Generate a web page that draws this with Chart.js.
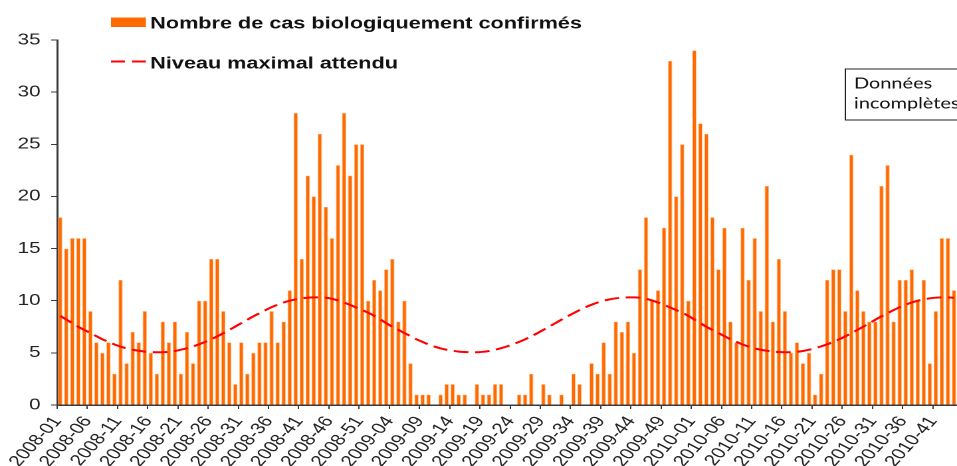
<!DOCTYPE html>
<html><head><meta charset="utf-8">
<script src="https://cdn.jsdelivr.net/npm/chart.js@4"></script>
<style>html,body{margin:0;padding:0;background:#fff;overflow:hidden;}canvas{display:block;}</style>
</head>
<body>
<canvas id="c" width="720" height="466" style="width:957px;height:466px;"></canvas>
<script>
// ---- data ----
const years = [2008, 2009, 2010];
const weeksShown = [52, 53, 44];

const cases2008 = [18,15,16,16,16,9,6,5,6,3, 12,4,7,6,9,5,3,8,6,8, 3,7,4,10,10,14,14,9,6,2, 6,3,5,6,6,9,6,8,11,28, 14,22,20,26,19,16,23,28,22,25, 25,10];
const cases2009 = [12,11,13,14,8,10,4,1,1,1, 0,1,2,2,1,1,0,2,1,1, 2,2,0,0,1,1,3,0,2,1, 0,1,0,3,2,0,4,3,6,3, 8,7,8,5,13,18,10,11,17,33, 20,25,10];
const cases2010 = [34,27,26,18,13,17,8,6,17,12, 16,9,21,8,14,9,5,6,4,5, 1,3,12,13,13,9,24,11,9,8, 8,21,23,8,12,12,13,10,12,4, 9,16,16,11];

const expected2008 = [8.55,8.2,7.85,7.5,7.2,6.9,6.6,6.3,6.05,5.8, 5.6,5.42,5.3,5.2,5.12,5.08,5.06,5.06,5.1,5.18, 5.3,5.45,5.62,5.82,6.05,6.3,6.58,6.88,7.2,7.52, 7.85,8.18,8.5,8.8,9.1,9.38,9.62,9.83,10.0,10.13, 10.23,10.29,10.32,10.32,10.28,10.18,10.03,9.83,9.6,9.35, 9.1,8.85];
const expected2009 = [8.55,8.2,7.85,7.5,7.2,6.9,6.6,6.3,6.05,5.8, 5.6,5.42,5.3,5.2,5.12,5.08,5.06,5.06,5.1,5.18, 5.3,5.45,5.62,5.82,6.05,6.3,6.58,6.88,7.2,7.52, 7.85,8.18,8.5,8.8,9.1,9.38,9.62,9.83,10.0,10.13, 10.23,10.29,10.32,10.32,10.28,10.18,10.03,9.83,9.6,9.35, 9.1,8.85,8.55];
const expected2010 = [8.2,7.85,7.5,7.2,6.9,6.6,6.3,6.05,5.8,5.6, 5.42,5.3,5.2,5.12,5.08,5.06,5.06,5.1,5.18,5.3, 5.45,5.62,5.82,6.05,6.3,6.58,6.88,7.2,7.52,7.85, 8.18,8.5,8.8,9.1,9.38,9.62,9.83,10.0,10.13,10.23, 10.29,10.32,10.32,10.28];

const legendLabels = ['Nombre de cas biologiquement confirmés', 'Niveau maximal attendu'];
const noteLines = ['Données', 'incomplètes'];
const yMin = 0, yMax = 35, yStep = 5;
const labelEvery = 5;

// ---- derived tables ----
const categories = [];
years.forEach((y, k) => {
  for (let w = 1; w <= weeksShown[k]; w++) categories.push(y + '-' + String(w).padStart(2, '0'));
});
const cases = [...cases2008, ...cases2009, ...cases2010];
const expected = [...expected2008, ...expected2009, ...expected2010];

const ORANGE = '#FF6A00';
const RED = '#FF0000';
const AXIS = '#3a3a3a';
const FONT = '"Liberation Sans", Arial, sans-serif';

const overlay = {
  id: 'overlay',
  afterDraw(chart) {
    const ctx = chart.ctx;
    ctx.save();
    ctx.textBaseline = 'alphabetic';
    ctx.textAlign = 'left';
    // legend
    ctx.fillStyle = ORANGE;
    ctx.fillRect(83.5, 17.5, 26.3, 9.5);
    ctx.font = 'bold 16.3px ' + FONT;
    ctx.fillStyle = '#111';
    ctx.fillText(legendLabels[0], 113, 28.5);
    ctx.strokeStyle = RED; ctx.lineWidth = 2; ctx.setLineDash([10.5, 5.3]);
    ctx.beginPath(); ctx.moveTo(83.5, 61.5); ctx.lineTo(110, 61.5); ctx.stroke();
    ctx.setLineDash([]);
    ctx.fillText(legendLabels[1], 113, 68.5);
    // note box
    ctx.lineWidth = 1; ctx.strokeStyle = '#222';
    ctx.strokeRect(636, 69, 140, 51);
    ctx.font = '15px Lato, sans-serif';
    ctx.fillStyle = '#111';
    ctx.fillText(noteLines[0], 642.5, 88.5);
    ctx.fillText(noteLines[1], 642.5, 108.5);
    ctx.restore();
  }
};

new Chart(document.getElementById('c'), {
  type: 'bar',
  data: {
    labels: categories,
    datasets: [
      { type: 'line', label: legendLabels[1], data: expected, borderColor: RED, borderWidth: 2,
        borderDash: [11, 5], pointRadius: 0, tension: 0.3, fill: false, order: 0 },
      { type: 'bar', label: legendLabels[0], data: cases, backgroundColor: ORANGE,
        borderColor: '#FFBE8C', borderWidth: 0.5, categoryPercentage: 1, barPercentage: 0.72, order: 1 }
    ]
  },
  options: {
    responsive: false,
    animation: false,
    devicePixelRatio: 2,
    layout: { padding: { top: 40, right: 0, bottom: 0, left: 0 } },
    plugins: { legend: { display: false }, tooltip: { enabled: false } },
    scales: {
      x: {
        offset: true,
        grid: { offset: true, drawOnChartArea: false, drawTicks: true, tickLength: 4,
          color: c => (c.index % labelEvery === 0 ? AXIS : 'rgba(0,0,0,0)'), lineWidth: 1 },
        border: { display: true, color: AXIS, width: 1.5 },
        ticks: { autoSkip: false, maxRotation: 55, minRotation: 55, padding: 4, labelOffset: -2,
          font: { family: FONT, size: 15.5 }, color: '#222',
          callback: (v, i) => (i % labelEvery === 0 ? categories[i] : '') },
        afterFit: s => { s.height = 61; s.paddingLeft = 0; s.paddingRight = 0; }
      },
      y: {
        min: yMin, max: yMax,
        ticks: { stepSize: yStep, padding: 8, font: { family: FONT, size: 15.5 }, color: '#222' },
        grid: { drawOnChartArea: false, drawTicks: true, tickLength: 4.5, color: AXIS },
        border: { display: true, color: AXIS, width: 1.5 },
        afterFit: s => { s.width = 43; }
      }
    }
  },
  plugins: [overlay]
});
</script>
</body></html>
